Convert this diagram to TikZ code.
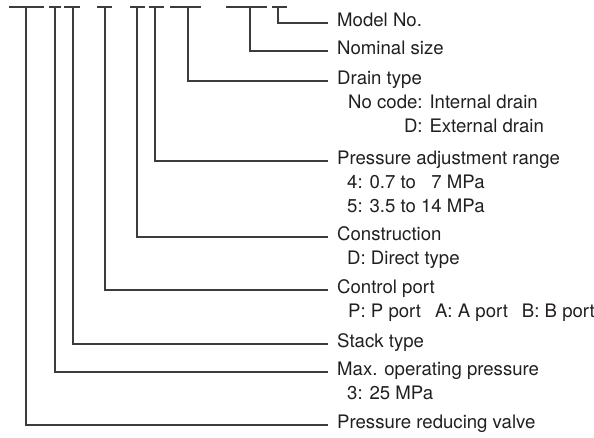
\documentclass[tikz,border=0pt]{standalone}
\usepackage{fontspec}
\setmainfont{TeX Gyre Heros}
\definecolor{ink}{HTML}{231F20}
\definecolor{wire}{HTML}{3C3C3C}
\begin{document}
\begin{tikzpicture}[x=1pt,y=-1pt,
  lbl/.style={anchor=west,inner sep=0pt,text height=0.72em,text depth=0pt,text=ink,
              font=\fontsize{18.6}{22}\selectfont},
  barline/.style={draw=wire,line width=1.1pt},
  wirel/.style={draw=wire,line width=1.1pt}]
\useasboundingbox (0,0) rectangle (594,437);

% top bars and their branch points
\coordinate (tA) at (26,7);
\coordinate (tB) at (55,7);
\coordinate (tC) at (73,7);
\coordinate (tD) at (105,7);
\coordinate (tE) at (137,7);
\coordinate (tF) at (155,7);
\coordinate (tG) at (188,7);
\coordinate (tH) at (250,7);
\coordinate (tI) at (278,7);
\draw[barline] (9,7) -- (44,7);
\draw[barline] (49,7) -- (61,7);
\draw[barline] (64,7) -- (80,7);
\draw[barline] (97,7) -- (112,7);
\draw[barline] (130,7) -- (145,7);
\draw[barline] (149,7) -- (164,7);
\draw[barline] (170,7) -- (201,7);
\draw[barline] (226,7) -- (267,7);
\draw[barline] (272,7) -- (287,7);

% labels
\node[lbl] (lModel) at (337,23) {Model No.};
\node[lbl] (lNom) at (337,51) {Nominal size};
\node[lbl] (lDrain) at (337,81) {Drain type};
\node[lbl] (sDrainA) at (348,105) {No code: Internal drain};
\node[lbl] (sDrainB) at (348,129) {\phantom{No code}\llap{D}: External drain};
\node[lbl] (lPress) at (337,161) {Pressure adjustment range};
\node[lbl] (sPressA) at (347,185) {4: 0.7 to \phantom{1}7 MPa};
\node[lbl] (sPressB) at (347,209) {5: 3.5 to 14 MPa};
\node[lbl] (lCons) at (337,237) {Construction};
\node[lbl] (sCons) at (347,261) {D: Direct type};
\node[lbl] (lCtrl) at (337,290) {Control port};
\node[lbl] (sCtrl) at (348,314) {P: P port\hspace{0.75em}A: A port\hspace{0.75em}B: B port};
\node[lbl] (lStack) at (337,344) {Stack type};
\node[lbl] (lMax) at (337,372) {Max. operating pressure};
\node[lbl] (sMax) at (347,396) {3: 25 MPa};
\node[lbl] (lPRV) at (337,425) {Pressure reducing valve};

% connectors
\draw[wirel] (tI) |- ([xshift=-9pt]lModel.west);
\draw[wirel] (tH) |- ([xshift=-9pt]lNom.west);
\draw[wirel] (tG) |- ([xshift=-9pt]lDrain.west);
\draw[wirel] (tF) |- ([xshift=-9pt]lPress.west);
\draw[wirel] (tE) |- ([xshift=-9pt]lCons.west);
\draw[wirel] (tD) |- ([xshift=-9pt]lCtrl.west);
\draw[wirel] (tC) |- ([xshift=-9pt]lStack.west);
\draw[wirel] (tB) |- ([xshift=-9pt]lMax.west);
\draw[wirel] (tA) |- ([xshift=-9pt]lPRV.west);
\end{tikzpicture}
\end{document}
